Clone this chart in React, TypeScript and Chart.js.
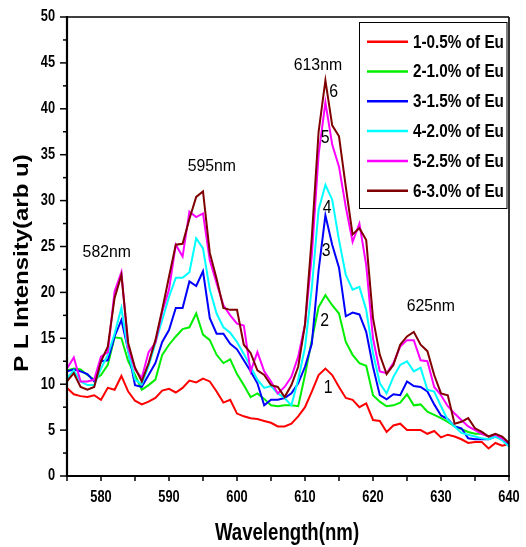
import React, { useEffect, useRef } from 'react';
import { Chart, registerables } from 'chart.js';

Chart.register(...registerables);

// ---------- DATA ----------
const wavelengths: number[] = [
  575, 576, 577, 578, 579, 580, 581, 582, 583, 584,
  585, 586, 587, 588, 589, 590, 591, 592, 593, 594,
  595, 596, 597, 598, 599, 600, 601, 602, 603, 604,
  605, 606, 607, 608, 609, 610, 611, 612, 613, 614,
  615, 616, 617, 618, 619, 620, 621, 622, 623, 624,
  625, 626, 627, 628, 629, 630, 631, 632, 633, 634,
  635, 636, 637, 638, 639, 640,
];

const eu05: number[] = [
  9.6, 8.9, 8.7, 8.6, 8.8, 8.3, 9.6, 9.4, 10.9, 9.2,
  8.2, 7.8, 8.1, 8.5, 9.3, 9.5, 9.1, 9.6, 10.4, 10.2,
  10.6, 10.3, 9.2, 8.0, 8.3, 6.8, 6.5, 6.3, 6.2, 6.0,
  5.8, 5.4, 5.4, 5.7, 6.5, 7.5, 9.2, 11.0, 11.7, 11.0,
  9.7, 8.5, 8.3, 7.5, 7.9, 6.1, 6.0, 4.8, 5.5, 5.7,
  5.0, 5.0, 5.0, 4.6, 4.9, 4.2, 4.5, 4.3, 4.0, 3.6,
  3.7, 3.7, 3.0, 3.6, 3.3, 3.5,
];
const eu10: number[] = [
  11.5, 11.7, 11.6, 11.0, 10.5, 11.0, 12.1, 15.1, 15.0, 12.5,
  11.0, 9.4, 9.9, 10.5, 13.2, 14.3, 15.2, 16.0, 16.2, 17.7,
  15.4, 14.8, 13.2, 12.3, 12.7, 11.1, 9.9, 8.6, 9.0, 8.4,
  7.7, 7.6, 7.7, 7.7, 7.6, 11.0, 14.8, 18.4, 19.7, 18.6,
  17.7, 14.6, 13.2, 12.3, 12.0, 8.8, 8.1, 7.6, 7.7, 8.0,
  8.9, 7.7, 7.8, 7.0, 6.65, 6.3, 5.9, 5.4, 5.1, 4.8,
  4.6, 4.6, 4.3, 4.5, 3.9, 3.4,
];
const eu15: number[] = [
  11.4, 11.6, 11.4, 11.1, 10.3, 12.5, 12.6, 15.2, 17.0, 13.7,
  9.9, 9.7, 11.0, 12.3, 14.6, 15.9, 18.3, 18.3, 21.2, 20.7,
  22.3, 17.2, 15.5, 15.5, 14.4, 13.8, 12.6, 11.4, 10.1, 7.7,
  8.3, 8.3, 8.5, 9.0, 10.1, 11.9, 14.4, 22.4, 28.4, 25.2,
  22.7, 17.4, 17.8, 17.6, 15.7, 11.9, 8.8, 8.35, 8.9, 8.8,
  10.3, 9.8, 9.7, 9.2, 7.8, 6.6, 6.2, 5.4, 5.2, 4.1,
  4.0, 4.0, 4.0, 4.3, 4.0, 3.4,
];
const eu20: number[] = [
  10.6, 11.5, 10.3, 9.9, 9.9, 11.7, 13.2, 15.5, 18.3, 13.5,
  10.5, 10.0, 12.0, 14.5, 17.0, 19.5, 21.6, 21.6, 22.2, 25.9,
  24.8, 20.3, 17.7, 16.2, 15.6, 14.6, 13.3, 11.9, 10.5, 9.6,
  9.8, 9.0, 8.5, 7.7, 10.5, 14.0, 20.5, 29.0, 31.7, 30.1,
  25.7, 21.9, 20.3, 20.6, 18.1, 13.4, 10.1, 9.0, 10.8, 12.1,
  12.5, 11.4, 11.8, 9.4, 9.2, 7.6, 6.1, 5.4, 4.7, 4.5,
  4.3, 4.1, 4.0, 4.3, 3.9, 3.2,
];
const eu25: number[] = [
  11.7, 12.9, 10.3, 10.3, 10.5, 13.0, 13.5, 20.1, 22.2, 14.0,
  11.6, 10.7, 13.5, 14.5, 17.9, 20.3, 25.2, 23.9, 28.8, 28.2,
  28.6, 23.5, 21.0, 18.6, 17.5, 16.6, 16.4, 11.4, 13.5, 11.4,
  10.3, 9.0, 9.7, 10.8, 13.0, 16.5, 24.0, 35.0, 40.7, 36.1,
  33.7, 29.3, 25.5, 27.5, 23.0, 15.0, 11.4, 11.2, 12.3, 14.1,
  14.8, 14.8, 12.6, 12.5, 9.7, 8.8, 7.6, 6.8, 6.1, 5.4,
  5.0, 4.6, 4.3, 4.5, 4.1, 3.6,
];
const eu30: number[] = [
  10.3, 11.2, 9.7, 9.4, 9.7, 12.5, 14.1, 19.4, 21.9, 14.5,
  11.8, 10.3, 12.3, 14.8, 18.1, 21.7, 25.2, 25.3, 28.0, 30.4,
  31.0, 24.3, 21.5, 18.3, 18.1, 18.1, 14.3, 13.4, 11.5, 11.0,
  9.9, 9.7, 8.6, 9.9, 11.9, 16.5, 26.0, 37.5, 43.1, 38.2,
  37.0, 31.5, 26.3, 27.0, 25.7, 17.2, 13.2, 11.1, 12.1, 14.3,
  15.2, 15.7, 14.3, 13.6, 11.0, 9.0, 8.8, 5.7, 5.9, 6.3,
  5.2, 4.8, 4.3, 4.6, 4.3, 3.6,
];

const seriesValues: number[][] = [eu05, eu10, eu15, eu20, eu25, eu30];
const seriesLabels: string[] = [
  '1-0.5% of Eu', '2-1.0% of Eu', '3-1.5% of Eu',
  '4-2.0% of Eu', '5-2.5% of Eu', '6-3.0% of Eu',
];
const seriesColors: string[] = ['#FF0000', '#00EE00', '#0000FF', '#00FFFF', '#FF00FF', '#800000'];

// peak annotations (data units)
const peakLabels: string[] = ['582nm', '595nm', '613nm', '625nm'];
const peakLabelX: number[] = [580.85, 596.3, 611.9, 628.5];
const peakLabelY: number[] = [23.85, 33.17, 44.28, 17.92];

// curve number annotations (data units)
const curveNumbers: string[] = ['1', '2', '3', '4', '5', '6'];
const curveNumberX: number[] = [613.41, 612.9, 613.12, 613.26, 612.97, 614.22];
const curveNumberY: number[] = [9.04, 16.29, 23.97, 28.65, 36.27, 41.29];

const xTitle = 'Wavelength(nm)';
const yTitle = 'P L Intensity(arb u)';

// ---------- DRAWING HELPERS ----------
const FONT = '"Liberation Sans", Arial, Helvetica, sans-serif';

function sText(
  ctx: CanvasRenderingContext2D,
  text: string,
  x: number,
  y: number,
  font: string,
  align: CanvasTextAlign,
  baseline: CanvasTextBaseline,
  sx: number,
) {
  ctx.save();
  ctx.font = font;
  ctx.textAlign = align;
  ctx.textBaseline = baseline;
  ctx.fillStyle = '#000';
  ctx.translate(x, y);
  ctx.scale(sx, 1);
  ctx.fillText(text, 0, 0);
  ctx.restore();
}

const decorPlugin = {
  id: 'decor',
  beforeDraw(chart: any) {
    const ctx = chart.ctx as CanvasRenderingContext2D;
    ctx.save();
    ctx.fillStyle = '#fff';
    ctx.fillRect(0, 0, chart.width, chart.height);
    ctx.restore();
  },
  afterDraw(chart: any) {
    const ctx = chart.ctx as CanvasRenderingContext2D;
    const { left, right, top, bottom } = chart.chartArea;
    const xs = chart.scales.x;
    const ys = chart.scales.y;

    ctx.save();
    ctx.strokeStyle = '#000';
    ctx.lineCap = 'butt';

    // frame
    ctx.lineWidth = 1.6;
    ctx.beginPath();
    ctx.moveTo(left, top);
    ctx.lineTo(right, top);
    ctx.moveTo(right, top);
    ctx.lineTo(right, bottom);
    ctx.stroke();
    ctx.lineWidth = 2.2;
    ctx.beginPath();
    ctx.moveTo(left, top - 1);
    ctx.lineTo(left, bottom + 1);
    ctx.moveTo(left - 1, bottom);
    ctx.lineTo(right + 1, bottom);
    ctx.stroke();

    // y ticks
    ctx.lineWidth = 1.5;
    for (const t of ys.ticks) {
      const v = t.value;
      const py = ys.getPixelForValue(v);
      const major = Math.abs(v / 5 - Math.round(v / 5)) < 1e-6;
      const len = major ? 7 : 4;
      ctx.beginPath();
      ctx.moveTo(left - len, py);
      ctx.lineTo(left, py);
      ctx.stroke();
      if (major) {
        sText(ctx, String(v), left - 12, py, `bold 16px ${FONT}`, 'right', 'middle', 0.8);
      }
    }
    // x ticks
    for (const t of xs.ticks) {
      const v = t.value;
      const px = xs.getPixelForValue(v);
      ctx.beginPath();
      ctx.moveTo(px, bottom);
      ctx.lineTo(px, bottom + 5);
      ctx.stroke();
      if (Math.abs(v / 10 - Math.round(v / 10)) < 1e-6) {
        sText(ctx, String(v), px, bottom + 22, `bold 16px ${FONT}`, 'center', 'middle', 0.8);
      }
    }
    ctx.restore();

    // axis titles
    sText(ctx, xTitle, (left + right) / 2 - 1, 540, `bold 23px ${FONT}`, 'center', 'alphabetic', 0.81);
    ctx.save();
    ctx.translate(28, 263);
    ctx.rotate(-Math.PI / 2);
    ctx.scale(1, 0.88);
    ctx.font = `bold 24px ${FONT}`;
    ctx.textAlign = 'center';
    ctx.textBaseline = 'alphabetic';
    ctx.fillStyle = '#000';
    ctx.fillText(yTitle, 0, 0);
    ctx.restore();

    // peak annotations
    peakLabels.forEach((txt, i) => {
      sText(ctx, txt, xs.getPixelForValue(peakLabelX[i]), ys.getPixelForValue(peakLabelY[i]),
        `17px ${FONT}`, 'center', 'alphabetic', 0.93);
    });
    curveNumbers.forEach((txt, i) => {
      sText(ctx, txt, xs.getPixelForValue(curveNumberX[i]), ys.getPixelForValue(curveNumberY[i]),
        `18px ${FONT}`, 'center', 'alphabetic', 0.88);
    });

    // legend
    ctx.save();
    const bx = 359.5, by = 22.5, bw = 147.5, bh = 186;
    ctx.fillStyle = '#fff';
    ctx.fillRect(bx, by, bw, bh);
    ctx.strokeStyle = '#000';
    ctx.lineWidth = 1;
    ctx.strokeRect(bx, by, bw, bh);
    seriesLabels.forEach((lab, i) => {
      const ry = 41.7 + i * 29.8;
      ctx.strokeStyle = seriesColors[i];
      ctx.lineWidth = 2.5;
      ctx.beginPath();
      ctx.moveTo(367, ry);
      ctx.lineTo(408, ry);
      ctx.stroke();
      sText(ctx, lab, 413, ry + 1, `bold 18px ${FONT}`, 'left', 'middle', 0.85);
    });
    ctx.restore();
  },
};

export default function App() {
  const canvasRef = useRef<HTMLCanvasElement | null>(null);

  useEffect(() => {
    document.body.style.margin = '0';
    const canvas = canvasRef.current;
    if (!canvas) return;
    const chart = new Chart(canvas, {
      type: 'line',
      data: {
        datasets: seriesLabels.map((label, i) => ({
          label,
          data: wavelengths.map((w, j) => ({ x: w, y: seriesValues[i][j] })),
          borderColor: seriesColors[i],
          backgroundColor: seriesColors[i],
          borderWidth: 2,
          pointRadius: 0,
          tension: 0,
          fill: false,
          order: seriesLabels.length - i,
        })),
      },
      options: {
        responsive: false,
        animation: false,
        events: [],
        devicePixelRatio: 1,
        layout: { padding: { left: 0, right: 17, top: 17, bottom: 0 } },
        plugins: {
          legend: { display: false },
          tooltip: { enabled: false },
          title: { display: false },
        },
        scales: {
          x: {
            type: 'linear',
            min: 575,
            max: 640,
            ticks: { stepSize: 5, display: false },
            grid: { display: false },
            border: { display: false },
            afterFit: (s: any) => { s.height = 71; },
          },
          y: {
            type: 'linear',
            min: 0,
            max: 50,
            ticks: { stepSize: 2.5, display: false },
            grid: { display: false },
            border: { display: false },
            afterFit: (s: any) => { s.width = 67; },
          },
        },
      } as any,
      plugins: [decorPlugin],
    });
    return () => chart.destroy();
  }, []);

  return (
    <div style={{ width: 526, height: 547 }}>
      <canvas ref={canvasRef} width={526} height={547} style={{ display: 'block' }} />
    </div>
  );
}
